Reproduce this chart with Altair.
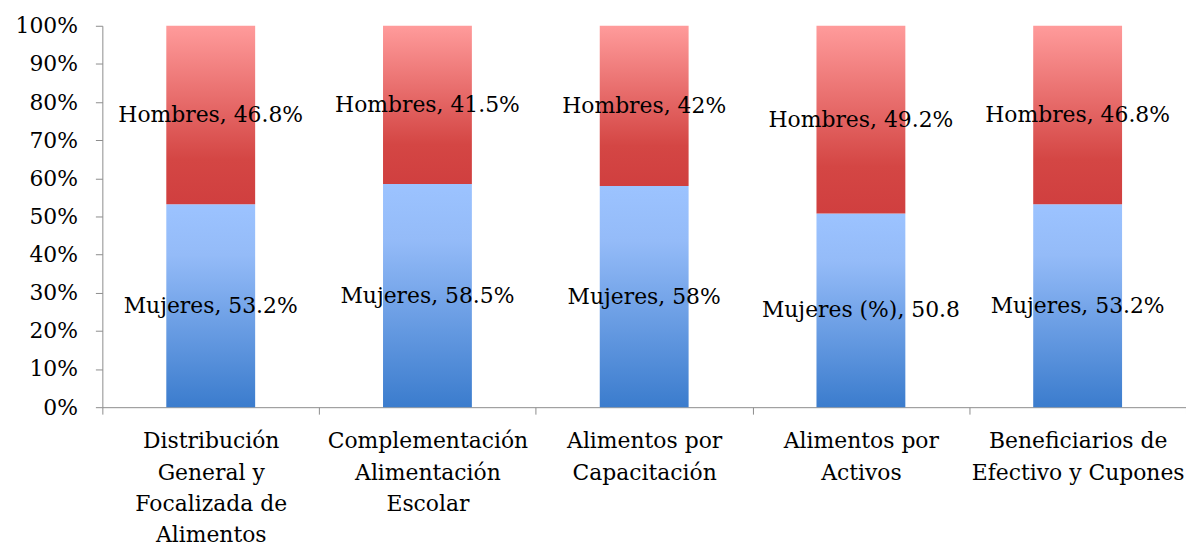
import altair as alt
import pandas as pd

categories = [
    "Distribución|General y|Focalizada de|Alimentos",
    "Complementación|Alimentación|Escolar",
    "Alimentos por|Capacitación",
    "Alimentos por|Activos",
    "Beneficiarios de|Efectivo y Cupones",
]
mujeres = [53.2, 58.5, 58.0, 50.8, 53.2]
hombres = [46.8, 41.5, 42.0, 49.2, 46.8]
mujeres_labels = ["Mujeres, 53.2%", "Mujeres, 58.5%", "Mujeres, 58%", "Mujeres (%), 50.8", "Mujeres, 53.2%"]
hombres_labels = ["Hombres, 46.8%", "Hombres, 41.5%", "Hombres, 42%", "Hombres, 49.2%", "Hombres, 46.8%"]
y_ticks = [0, 10, 20, 30, 40, 50, 60, 70, 80, 90, 100]

rows = []
for c, m, h, ml, hl in zip(categories, mujeres, hombres, mujeres_labels, hombres_labels):
    rows.append({"cat": c, "serie": "Mujeres", "start": 0.0, "end": m, "mid": m / 2, "label": ml})
    rows.append({"cat": c, "serie": "Hombres", "start": m, "end": m + h, "mid": m + h / 2, "label": hl})
df = pd.DataFrame(rows)

FONT = "DejaVu Serif"
AX = "#8c8c8c"

blue_grad = {
    "gradient": "linear", "x1": 0, "y1": 0, "x2": 0, "y2": 1,
    "stops": [
        {"offset": 0, "color": "#9cc3ff"},
        {"offset": 0.25, "color": "#94bbf8"},
        {"offset": 1, "color": "#3b7ccd"},
    ],
}
red_grad = {
    "gradient": "linear", "x1": 0, "y1": 0, "x2": 0, "y2": 1,
    "stops": [
        {"offset": 0, "color": "#ff9b9b"},
        {"offset": 0.75, "color": "#d44644"},
        {"offset": 1, "color": "#d03f3f"},
    ],
}

x_axis = alt.Axis(
    title=None, labelAngle=0, labelExpr="split(datum.label, '|')",
    tickBand="extent", tickSize=7, tickColor=AX, domainColor=AX,
    labelFont=FONT, labelFontSize=22, labelColor="#000000",
    labelLineHeight=31.5, labelPadding=17, labelAlign="center",
    labelLimit=0, labelOverlap=False,
)
y_axis = alt.Axis(
    title=None, values=y_ticks, labelExpr="datum.value + '%'", grid=False,
    tickSize=7, tickColor=AX, domainColor=AX, labelPadding=18,
    labelFont=FONT, labelFontSize=22, labelColor="#000000",
    labelOverlap=False, labelFlush=False, labelBound=False,
)
x_scale = alt.Scale(paddingInner=0, paddingOuter=0)
y_scale = alt.Scale(domain=[0, 100], nice=False)

def xe():
    return alt.X("cat:N", sort=categories, scale=x_scale, axis=x_axis)

def ye(field):
    return alt.Y(field, scale=y_scale, axis=y_axis)

base = alt.Chart(df)
bars_m = base.transform_filter(alt.datum.serie == "Mujeres").mark_bar(
    width=alt.RelativeBandSize(0.41), color=blue_grad
).encode(x=xe(), y=ye("start:Q"), y2="end:Q")
bars_h = base.transform_filter(alt.datum.serie == "Hombres").mark_bar(
    width=alt.RelativeBandSize(0.41), color=red_grad
).encode(x=xe(), y=ye("start:Q"), y2="end:Q")
texts = base.mark_text(font=FONT, fontSize=22, color="#000000", baseline="middle").encode(
    x=xe(), y=ye("mid:Q"), text="label:N",
)

chart = alt.layer(bars_m, bars_h, texts).properties(
    width=1091, height=384,
    autosize=alt.AutoSizeParams(type="none"),
    padding={"left": 95, "top": 16, "right": 0, "bottom": 160},
).configure_view(stroke=None).configure_axis(labelOverlap=False)

chart.save("out.html", embed_options={"renderer": "svg", "actions": False})
